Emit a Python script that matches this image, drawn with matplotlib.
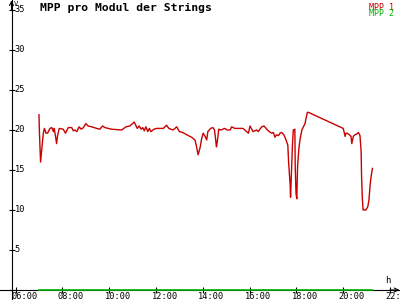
import matplotlib
matplotlib.use("Agg")
import matplotlib.pyplot as plt

# ---- data -------------------------------------------------------------
mpp1_times = [
    "07:00", "07:01", "07:04", "07:08", "07:11", "07:14", "07:18", "07:22", "07:28",
    "07:33", "07:37", "07:39", "07:43", "07:45", "07:48", "07:52", "08:02", "08:08",
    "08:15", "08:24", "08:28", "08:32", "08:37", "08:43", "08:48", "08:54", "09:00",
    "09:06", "09:15", "09:28", "09:36", "09:43", "09:49", "10:06", "10:32", "10:43",
    "10:53", "11:00", "11:04", "11:08", "11:12", "11:17", "11:22", "11:26", "11:30",
    "11:34", "11:39", "11:43", "11:47", "11:52", "11:55", "12:02", "12:19", "12:27",
    "12:33", "12:38", "12:44", "12:53", "13:00", "13:08", "13:19", "13:31", "13:40",
    "13:44", "13:48", "13:53", "13:57", "14:01", "14:06", "14:10", "14:13", "14:20",
    "14:26", "14:30", "14:35", "14:37", "14:41", "14:47", "14:56", "15:03", "15:10",
    "15:14", "15:22", "15:43", "15:57", "16:01", "16:09", "16:18", "16:22", "16:31",
    "16:37", "16:44", "16:50", "16:57", "17:01", "17:05", "17:09", "17:14", "17:18",
    "17:22", "17:28", "17:33", "17:38", "17:40", "17:44", "17:45", "17:48", "17:50",
    "17:52", "17:56", "17:57", "17:59", "18:01", "18:03", "18:06", "18:09", "18:14",
    "18:18", "18:22", "18:25", "18:28", "18:31", "20:00", "20:02", "20:05", "20:07",
    "20:10", "20:16", "20:20", "20:22", "20:26", "20:30", "20:35", "20:39", "20:43",
    "20:46", "20:47", "20:49", "20:51", "20:58", "21:03", "21:06", "21:09", "21:11",
    "21:15",
]
mpp1_values = [
    21.9, 19.8, 16.0, 18.1, 19.6, 20.2, 19.6, 19.6, 20.2,
    20.3, 19.8, 20.2, 19.0, 18.3, 19.4, 20.2, 20.1, 19.6,
    20.3, 20.3, 19.9, 20.0, 19.8, 20.4, 20.1, 20.3, 20.8,
    20.5, 20.4, 20.2, 20.1, 20.5, 20.3, 20.1, 20.0, 20.4,
    20.5, 20.8, 21.0, 20.6, 20.2, 20.5, 20.1, 20.3, 19.9,
    20.4, 19.8, 20.2, 19.8, 20.0, 20.1, 20.2, 20.2, 20.6,
    20.2, 20.1, 20.0, 20.4, 19.8, 19.7, 19.4, 19.1, 18.75,
    17.9, 16.9, 17.8, 18.9, 19.6, 19.2, 18.75, 19.8, 20.2,
    20.3, 20.0, 17.9, 18.5, 20.1, 20.0, 20.2, 20.0, 20.0,
    20.4, 20.2, 20.2, 19.6, 20.5, 19.8, 20.0, 19.8, 20.4,
    20.5, 20.1, 19.8, 19.6, 19.7, 19.1, 19.4, 19.3, 19.6,
    19.7, 19.4, 18.8, 18.1, 16.0, 13.1, 11.6, 15.6, 18.3,
    20.0, 20.1, 15.4, 12.1, 11.4, 15.4, 17.5, 18.75, 20.0,
    20.4, 20.8, 21.5, 22.2, 22.2, 20.2, 19.8, 19.2, 19.6,
    19.6, 19.4, 19.2, 18.3, 19.2, 19.4, 19.5, 19.7, 19.3,
    17.3, 14.4, 11.5, 10.0, 10.0, 10.4, 11.25, 13.1, 14.0,
    15.2,
]
mpp2_times = ["07:00", "21:15"]
mpp2_values = [0.0, 0.0]

x_ticks = [6, 8, 10, 12, 14, 16, 18, 20, 22]
x_tick_labels = ["06:00", "08:00", "10:00", "12:00", "14:00", "16:00", "18:00", "20:00", "22:00"]
y_ticks = [0, 5, 10, 15, 20, 25, 30, 35]
y_tick_labels = ["", "5", "10", "15", "20", "25", "30", "35"]

title = "MPP pro Modul der Strings"
series_names = ["MPP 1", "MPP 2"]
series_colors = ["#c80000", "#00b000"]


def to_hours(ts):
    out = []
    for t in ts:
        h, m = t.split(":")
        out.append(int(h) + int(m) / 60.0)
    return out


# ---- figure -----------------------------------------------------------
W, H = 400, 300
fig = plt.figure(figsize=(W / 100, H / 100), dpi=100)
ax = fig.add_axes([0, 0, 1, 1])
ax.set_facecolor("white")

px_per_hour = 23.4
x_left = 6 - 15.6 / px_per_hour
ax.set_xlim(x_left, x_left + W / px_per_hour)
ax.set_ylim(-1.25, 36.25)
y_axis_x = x_left + 11.5 / px_per_hour

for s in ["top", "right"]:
    ax.spines[s].set_visible(False)
ax.spines["left"].set_position(("data", y_axis_x))
ax.spines["bottom"].set_position(("data", 0))
for s in ["left", "bottom"]:
    ax.spines[s].set_linewidth(0.8)
    ax.spines[s].set_color("black")

ax.set_xticks(x_ticks)
ax.set_yticks(y_ticks)
ax.set_xticklabels([])
ax.set_yticklabels([])
ax.tick_params(direction="inout", length=4.5, width=0.8, color="black")

mono = "DejaVu Sans Mono"
for v, lab in zip(y_ticks, y_tick_labels):
    if lab:
        ax.annotate(lab, xy=(y_axis_x, v), xytext=(3, 0), textcoords="offset pixels",
                    ha="left", va="center", fontsize=6.2, family=mono, color="black")
for h, lab in zip(x_ticks, x_tick_labels):
    ax.annotate(lab, xy=(h, 0), xytext=(-4.5, -2), textcoords="offset pixels",
                ha="left", va="top", fontsize=6.2, family=mono, color="black",
                annotation_clip=False)

# arrows
ax.annotate("", xy=(x_left + 399.5 / px_per_hour, 0), xytext=(x_left + 390 / px_per_hour, 0),
            arrowprops=dict(arrowstyle="->", lw=0.8, color="black", mutation_scale=7,
                            shrinkA=0, shrinkB=0))
ax.annotate("", xy=(y_axis_x, 36.2), xytext=(y_axis_x, 35.0),
            arrowprops=dict(arrowstyle="->", lw=0.8, color="black", mutation_scale=7,
                            shrinkA=0, shrinkB=0))

ax.plot(to_hours(mpp1_times), mpp1_values, color=series_colors[0], lw=1.0,
        label=series_names[0], zorder=4)
ax.plot(to_hours(mpp2_times), mpp2_values, color=series_colors[1], lw=1.2,
        label=series_names[1], zorder=5, clip_on=False)

# texts
fig.text(40 / W, 1 - 3 / H, title, ha="left", va="top", fontsize=8.2,
         family=mono, fontweight="bold", color="black")
fig.text(394 / W, 1 - 9.5 / H, series_names[0], ha="right", va="baseline", fontsize=6.0,
         family=mono, color=series_colors[0])
fig.text(394 / W, 1 - 16.5 / H, series_names[1], ha="right", va="baseline", fontsize=6.0,
         family=mono, color=series_colors[1])
fig.text(13.5 / W, 1 - 1 / H, "V", ha="left", va="top", fontsize=5, family=mono, color="black")
fig.text(385 / W, 1 - 276 / H, "h", ha="left", va="top", fontsize=6.5, family=mono, color="black")

fig.savefig("out.png", dpi=100, facecolor="white")
